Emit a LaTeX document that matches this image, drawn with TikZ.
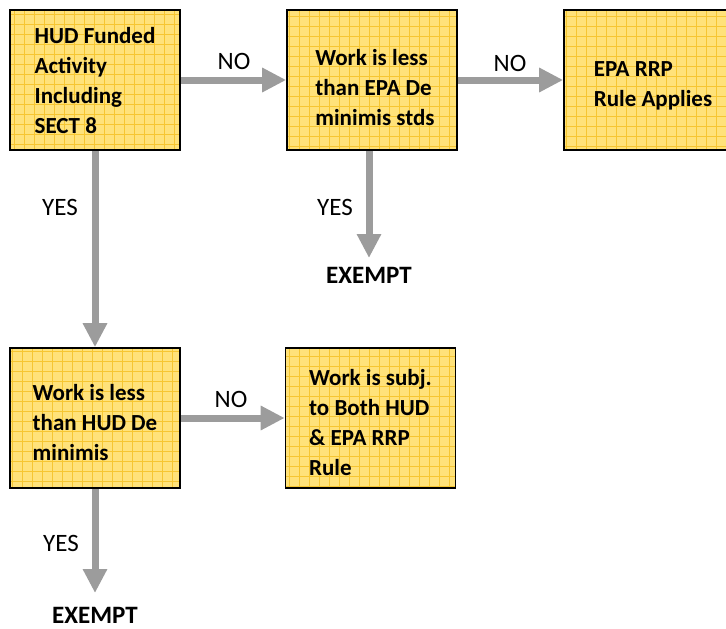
\documentclass[tikz,border=0pt]{standalone}
\usepackage{fontspec}
\setmainfont{Carlito}
\usetikzlibrary{arrows.meta}
\definecolor{boxfill}{HTML}{FFE27A}
\definecolor{gridc}{HTML}{F6C632}
\definecolor{arrowc}{HTML}{9C9C9C}
\tikzset{
  box/.style={draw=black, line width=1.6pt, fill=boxfill, minimum width=170pt, minimum height=140pt,
    align=left, inner sep=0pt, font=\fontsize{23}{30}\selectfont\bfseries,
    path picture={\draw[gridc, line width=0.5pt, step=10pt] ([shift={(-5pt,-5pt)}]path picture bounding box.south west) grid (path picture bounding box.north east);}},
  flow/.style={draw=arrowc, line width=7pt, -{Triangle[width=23pt,length=24pt]}},
  lbl/.style={font=\fontsize{25}{30}\selectfont, inner sep=0pt},
  exempt/.style={font=\fontsize{25}{30}\selectfont\bfseries, inner sep=0pt, anchor=north},
}
\begin{document}
\begin{tikzpicture}[x=1pt,y=-1pt]
\clip (0,0) rectangle (726,629);
\node[box] (b1) at (95,80) {\rule{0pt}{18pt}HUD Funded\\Activity\\Including\\SECT 8};
\node[box] (b2) at (372,80) {\rule{0pt}{32pt}\hspace*{6pt}Work is less\\\hspace*{6pt}than EPA De\\\hspace*{6pt}minimis stds};
\node[box] (b3) at (649,80) {\rule{0pt}{26pt}\hspace*{8pt}EPA RRP\\\hspace*{8pt}Rule Applies};
\node[box] (b4) at (95,418) {\rule{0pt}{26pt}Work is less\\than HUD De\\minimis};
\node[box] (b5) at (370.5,418) {\rule{0pt}{26pt}Work is subj.\\to Both HUD\\\& EPA RRP\\Rule};
\node[exempt] (e1) at (369,267) {EXEMPT};
\node[exempt] (e2) at (95,607) {EXEMPT};
\draw[flow] (b1.east) -- (b2.west);
\draw[flow] (b2.east) -- (b3.west);
\draw[flow] (b4.east) -- (b5.west);
\draw[flow] (b1.south) -- (b4.north);
\draw[flow, shorten >=9pt] ([xshift=-3pt]b2.south) -- (e1.north);
\draw[flow, shorten >=14pt] (b4.south) -- (e2.north);
\node[lbl] (n1) at (234,61) {NO};
\node[lbl] (n2) at (510,63) {NO};
\node[lbl] (n3) at (231,399) {NO};
\node[lbl] (y1) at (60,207) {YES};
\node[lbl] (y2) at (335,207) {YES};
\node[lbl] (y3) at (61,543) {YES};
\end{tikzpicture}
\end{document}
